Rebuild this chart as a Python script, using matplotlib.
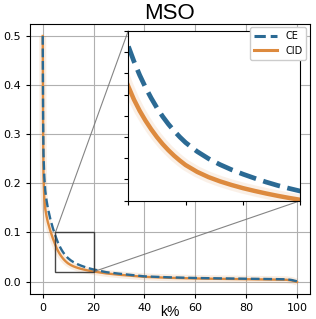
import numpy as np
import matplotlib
matplotlib.use('Agg')
import matplotlib.pyplot as plt

k_pct = [0, 0.15, 0.3, 0.6, 1, 1.5, 2, 3, 4, 5, 5.5, 6, 6.5, 7, 7.5, 8, 8.5, 9, 9.5,
         10, 11, 12, 13, 14, 15, 16, 17, 18, 19, 20, 25, 30, 40, 50, 60, 70, 80,
         90, 96, 98, 100]

ce_vals = [0.500, 0.330, 0.260, 0.215, 0.185, 0.165, 0.150, 0.127, 0.1085, 0.093,
           0.0857, 0.0792, 0.0735, 0.0684, 0.0638, 0.0597, 0.0561, 0.0529, 0.0500,
           0.0474, 0.0432, 0.0398, 0.0370, 0.0346, 0.0325, 0.0306, 0.0288, 0.0272,
           0.0258, 0.0245, 0.0190, 0.0160, 0.0105, 0.0085, 0.0072, 0.0064, 0.0057,
           0.0050, 0.0045, 0.0030, 0.0005]

cid_vals = [0.500, 0.300, 0.215, 0.172, 0.148, 0.133, 0.121, 0.103, 0.0875, 0.074,
            0.0677, 0.0624, 0.0578, 0.0537, 0.0500, 0.0467, 0.0438, 0.0412, 0.0389,
            0.0368, 0.0336, 0.0311, 0.0291, 0.0274, 0.0259, 0.0246, 0.0234, 0.0223,
            0.0213, 0.0204, 0.0165, 0.0138, 0.0095, 0.0075, 0.0062, 0.0054, 0.0047,
            0.0040, 0.0035, 0.0020, -0.0010]

CE_COLOR = '#2b6a94'
CID_COLOR = '#dd8a3e'

fig = plt.figure(figsize=(3.16, 3.19), dpi=100)
ax = fig.add_axes([0.095, 0.0774, 0.885, 0.8483])

# main curves (light band behind CID)
ax.plot(k_pct, cid_vals, color=CID_COLOR, linewidth=5, alpha=0.15, solid_capstyle='butt')
ax.plot(k_pct, ce_vals, '--', color=CE_COLOR, linewidth=1.7, label='CE', zorder=3)
ax.plot(k_pct, cid_vals, '-', color=CID_COLOR, linewidth=1.7, label='CID', zorder=2)

ax.grid(True, color='#b0b0b0', linewidth=0.8)
ax.set_xticks([0, 20, 40, 60, 80, 100])
ax.set_yticks([0.0, 0.1, 0.2, 0.3, 0.4, 0.5])
ax.tick_params(labelsize=8, length=3)
ax.set_xlabel('k%', fontsize=10, family='Liberation Sans', labelpad=-6)
ax.set_title('MSO', fontsize=16, family='Liberation Sans', pad=2)

leg = ax.legend(loc='upper right', fontsize=7, handlelength=2.4,
                borderaxespad=0.35, framealpha=1.0)
for h in leg.get_lines():
    h.set_linewidth(2.2)
leg.set_zorder(20)

# zoomed inset
axins = ax.inset_axes([0.351, 0.346, 0.616, 0.627])
axins.plot(k_pct, cid_vals, color=CID_COLOR, linewidth=8, alpha=0.12, solid_capstyle='butt')
axins.plot(k_pct, ce_vals, '--', color=CE_COLOR, linewidth=3.4)
axins.plot(k_pct, cid_vals, '-', color=CID_COLOR, linewidth=3.2)
axins.set_xlim(5, 20)
axins.set_ylim(0.02, 0.1)
axins.set_xticks([5, 10, 15, 20])
axins.set_yticks(np.arange(0.02, 0.1001, 0.01))
axins.set_xticklabels([])
axins.set_yticklabels([])
axins.tick_params(length=3)

ind = ax.indicate_inset_zoom(axins, edgecolor='#333333', alpha=0.9)
rect, connectors = ind
# keep upper-left and lower-right connectors like the original
for i, c in enumerate(connectors):
    c.set_color('#777777')
    c.set_linewidth(0.8)
    c.set_visible(i in (1, 2))

plt.savefig('out.png', dpi=100)
